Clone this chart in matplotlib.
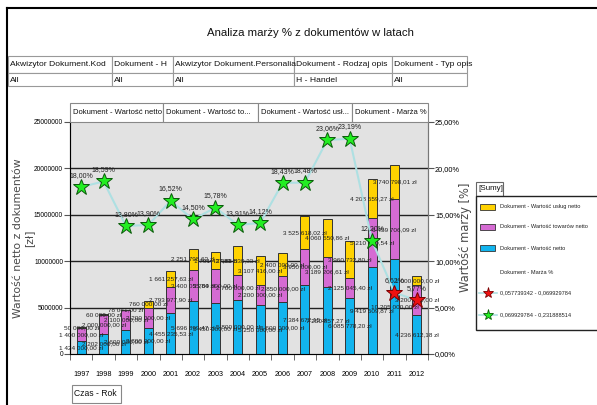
import numpy as np
import matplotlib
matplotlib.use("Agg")
import matplotlib.pyplot as plt
from matplotlib.patches import Rectangle
from matplotlib.lines import Line2D

plt.rcParams['font.family'] = ['Liberation Sans', 'DejaVu Sans']

# data
years = ['1997', '1998', '1999', '2000', '2001', '2002', '2003', '2004',
         '2005', '2006', '2007', '2008', '2009', '2010', '2011', '2012']
netto = [1424000, 2202000, 2600000, 2800000, 4455235.53, 5696899.47, 5450000, 5800000,
         5250000, 5600000, 7384672.15, 7250857.27, 6085778.20, 9419509.87, 10205000, 4236612.18]
towary = [1400000, 2000000, 2100000, 2200000, 2793977.90, 3400055.84, 3700000, 2700000,
          2200000, 2850000, 3950000, 3189206.61, 2125045.40, 5210000.54, 6459706.09, 3200000]
uslugi = [50000, 60000, 78041, 760000, 1661257.63, 2251798.63, 1791427.83, 3185530.33,
          3107416, 2400000, 3525618.02, 4060550.86, 3960732.80, 4208559.27, 3740798.01, 1000000]
marza = [18.00, 18.59, 13.80, 13.90, 16.52, 14.50, 15.78, 13.91,
         14.12, 18.43, 18.48, 23.06, 23.19, 12.20, 6.62, 5.77]
bin_edge = 6.9929784

filter_heads = ['Akwizytor Dokument.Kod', 'Dokument - H', 'Akwizytor Dokument.Personalia',
                'Dokument - Rodzaj opis', 'Dokument - Typ opis']
filter_vals = ['All', 'All', 'All', 'H - Handel', 'All']
filter_cols = [8, 112, 173, 294, 392, 467]
series_heads = ['Dokument - Wartość netto', 'Dokument - Wartość to...',
                'Dokument - Wartość usł...', 'Dokument - Marża %']
series_cols = [70, 163, 258, 352, 428]
legend_labels = ['Dokument - Wartość usług netto', 'Dokument - Wartość towarów netto',
                 'Dokument - Wartość netto', 'Dokument - Marża %',
                 '0,057739342 - 0,069929784', '0,069929784 - 0,231888514']

c_yel = '#ffd200'
c_mag = '#d56bd3'
c_blu = '#12b4ee'
c_bg = '#e2e2e2'
c_line = '#aee0e2'

W, H = 597, 405
fig = plt.figure(figsize=(W / 100, H / 100), dpi=100)


def fx(x):
    return x / W


def fy(y):
    return 1 - y / H


def box(x0, y0, x1, y1, fc='white', ec='#999999', lw=0.8):
    fig.add_artist(Rectangle((fx(x0), fy(y1)), (x1 - x0) / W, (y1 - y0) / H,
                             transform=fig.transFigure, fc=fc, ec=ec, lw=lw))


def pl(v):
    return f"{v:,.2f}".replace(',', ' ').replace('.', ',') + ' zł'


# outer frame
fig.add_artist(Line2D([fx(7), fx(597)], [fy(8), fy(8)], transform=fig.transFigure, color='black', lw=1.5))
fig.add_artist(Line2D([fx(7), fx(7)], [fy(8), fy(405)], transform=fig.transFigure, color='black', lw=1.5))

fig.text(fx(310), fy(33), 'Analiza marży % z dokumentów w latach', ha='center', va='center',
         fontsize=8.2, color='#111111')

# filter table
for i in range(5):
    box(filter_cols[i], 56, filter_cols[i + 1], 73)
    box(filter_cols[i], 73, filter_cols[i + 1], 86)
    fig.text(fx(filter_cols[i] + 2), fy(65), filter_heads[i], ha='left', va='center', fontsize=6.1, color='#111111')
    fig.text(fx(filter_cols[i] + 2), fy(80), filter_vals[i], ha='left', va='center', fontsize=6.1, color='#111111')

# series header boxes
for i in range(4):
    box(series_cols[i], 103, series_cols[i + 1], 122, ec='#888888')
    fig.text(fx(series_cols[i] + 3), fy(112.5), series_heads[i], ha='left', va='center',
             fontsize=5.5, color='#111111')

ax = fig.add_axes([fx(70), fy(354), (428 - 70) / W, (354 - 122) / H])
ax.set_facecolor(c_bg)
x = np.arange(len(years))
netto = np.array(netto)
towary = np.array(towary)
uslugi = np.array(uslugi)

b1 = ax.bar(x, netto, 0.4, color=c_blu, edgecolor='#333333', lw=0.7, zorder=3)
b2 = ax.bar(x, towary, 0.4, bottom=netto, color=c_mag, edgecolor='#333333', lw=0.7, zorder=3)
b3 = ax.bar(x, uslugi, 0.4, bottom=netto + towary, color=c_yel, edgecolor='#333333', lw=0.7, zorder=3)
for bars, vals in [(b1, netto), (b2, towary), (b3, uslugi)]:
    ax.bar_label(bars, labels=[pl(v) for v in vals], label_type='center', fontsize=4.6,
                 color='#222222', zorder=5)

ax.set_xlim(-0.5, len(years) - 0.5)
ax.set_ylim(0, 25000000)
ax.set_yticks(np.arange(0, 25000001, 5000000))
ax.set_yticklabels([str(v) for v in range(0, 25000001, 5000000)], fontsize=4.8)
for v in range(5000000, 25000000, 5000000):
    ax.axhline(v, color='#222222', lw=1, zorder=1)
ax.set_xticks(x)
ax.set_xticklabels(years, fontsize=5.2)
ax.set_xticks(np.arange(-0.5, len(years)), minor=True)
ax.tick_params(axis='x', which='major', length=0, pad=12)
ax.tick_params(axis='x', which='minor', length=4, color='#555555')
ax.tick_params(axis='y', length=4, color='#555555', pad=1)
for s in ['left', 'right', 'bottom']:
    ax.spines[s].set_color('#777777')
ax.spines['top'].set_visible(False)

ax2 = ax.twinx()
ax2.set_ylim(0, 25)
ax2.set_yticks(np.arange(0, 26, 5))
ax2.set_yticklabels([f"{v:.2f}%".replace('.', ',') for v in range(0, 26, 5)], fontsize=5.3)
ax2.tick_params(axis='y', length=4, color='#555555', pad=1)
ax2.spines['right'].set_color('#777777')
ax2.spines['top'].set_visible(False)

ax2.plot(x, marza, color=c_line, lw=1.5, zorder=2)
for i, p in enumerate(marza):
    if p < bin_edge:
        fc, ec = '#ee1111', '#7a0000'
    else:
        fc, ec = '#22ee22', '#0a5a0a'
    ax2.plot(i, p, marker='*', ms=12, mfc=fc, mec=ec, mew=0.7, ls='none', zorder=4)
    ax2.annotate(f"{p:.2f}%".replace('.', ','), (i, p), xytext=(0, 6), textcoords='offset points',
                 ha='center', va='bottom', fontsize=5, color='#222222', zorder=5)

# axis titles
fig.text(fx(24), fy(238), 'Wartość netto z dokumentów\n[zł]', family='DejaVu Sans', rotation=90,
         ha='center', va='center', fontsize=7.8, color='#4a4a4a', linespacing=1.15)
fig.text(fx(465), fy(237), 'Wartość marży [%]', family='DejaVu Sans', rotation=90,
         ha='center', va='center', fontsize=8.3, color='#4a4a4a')

# Czas - Rok box
box(72, 385, 121, 403, ec='#888888')
fig.text(fx(74), fy(394), 'Czas - Rok', ha='left', va='center', fontsize=6.2, color='#111111')

# legend
box(476, 182, 503, 196, ec='#666666')
fig.text(fx(478), fy(189), '[Sumy]', ha='left', va='center', fontsize=5.8, color='#111111')
box(476, 196, 600, 330, ec='#222222', lw=1.0)
leg_y = [207, 227, 248, 273, 293, 315]
patch_cols = [c_yel, c_mag, c_blu]
for k in range(3):
    box(480, leg_y[k] - 3, 495, leg_y[k] + 3, fc=patch_cols[k], ec='#333333', lw=0.6)
for k, (mfc, mec) in zip([4, 5], [('#ee1111', '#7a0000'), ('#22ee22', '#0a5a0a')]):
    fig.add_artist(Line2D([fx(479), fx(497)], [fy(leg_y[k]), fy(leg_y[k])], transform=fig.transFigure,
                          color=c_line, lw=1.2))
    fig.add_artist(Line2D([fx(488)], [fy(leg_y[k])], transform=fig.transFigure, marker='*', ms=8,
                          mfc=mfc, mec=mec, mew=0.6, ls='none'))
for k in range(6):
    fig.text(fx(500), fy(leg_y[k]), legend_labels[k], ha='left', va='center', fontsize=4.1, color='#222222')

fig.savefig('out.png', dpi=100)
